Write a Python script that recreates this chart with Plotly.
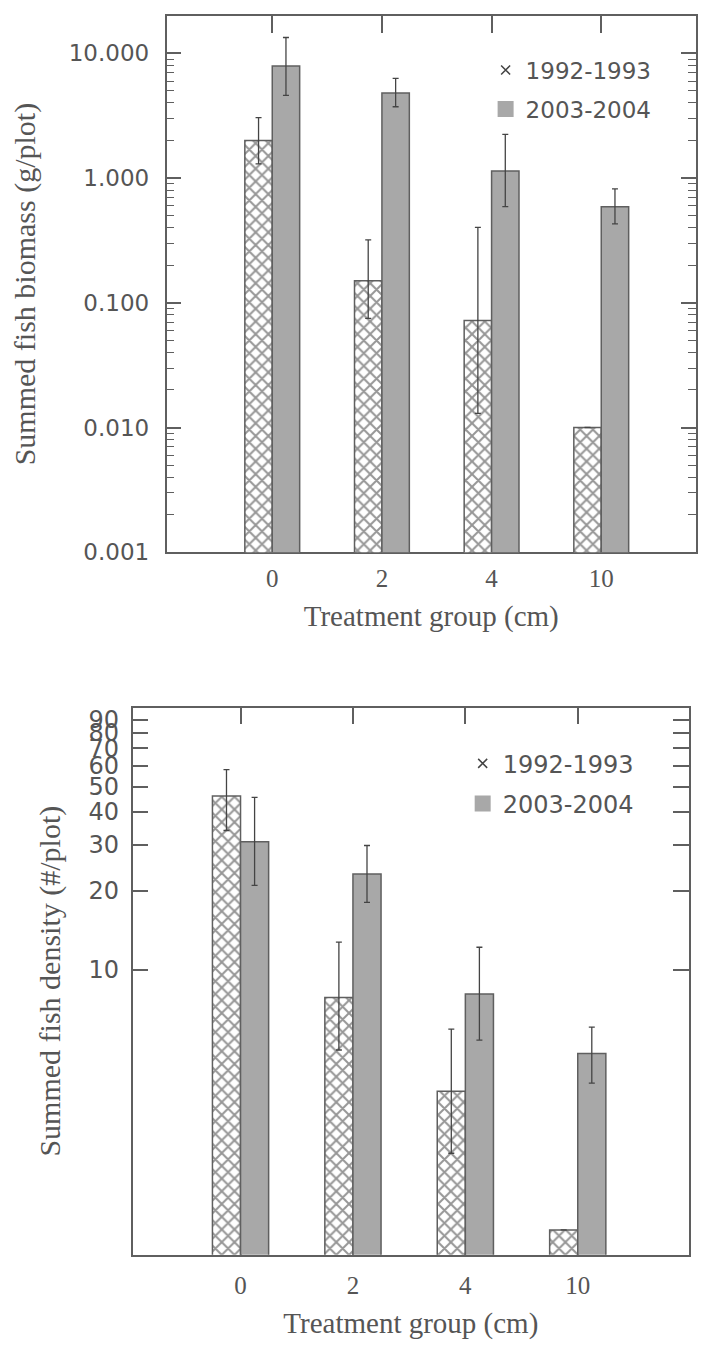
import plotly.graph_objects as go
import math

# ---------------- data ----------------
groups = ["0", "2", "4", "10"]
series_names = ["1992-1993", "2003-2004"]

biomass_9293 = [2.0, 0.15, 0.072, 0.010]
biomass_9293_up = [1.05, 0.17, 0.33, None]
biomass_9293_down = [0.70, 0.075, 0.059, None]

biomass_0304 = [7.9, 4.8, 1.14, 0.59]
biomass_0304_up = [5.5, 1.5, 1.1, 0.23]
biomass_0304_down = [3.3, 1.07, 0.55, 0.16]

density_9293 = [46.0, 7.85, 3.45, 1.02]
density_9293_up = [12.0, 4.9, 2.5, None]
density_9293_down = [12.0, 2.9, 1.45, None]

density_0304 = [30.8, 23.2, 8.1, 4.8]
density_0304_up = [14.7, 6.6, 4.1, 1.25]
density_0304_down = [9.8, 5.1, 2.7, 1.1]

density_tickvals = [10, 20, 30, 40, 50, 60, 70, 80, 90]
density_ticktext = ["10", "20", "30", "40", "50", "60", "70", "80", "90"]

# ---------------- style ----------------
# the page body keeps its default 8px margin, so the figure is 16px smaller
W, H = 690, 1336
OFF = 8
AX = "#5f5f5f"
TXT = "#555555"
GRAY = "#a8a8a8"
HATCH_FG = "#2e2e2e"
SANS = "DejaVu Sans"
SERIF = "Liberation Serif"


def px_x(X):
    return (X - OFF) / W


def px_y(Y):
    return 1 - (Y - OFF) / H


fig = go.Figure()


def add_pair(xa, ya, v1, u1, d1, v2, u2, d2):
    fig.add_trace(go.Bar(
        x=groups, y=v1, xaxis=xa, yaxis=ya, showlegend=False,
        marker=dict(color="white", line=dict(color=AX, width=1.5),
                    pattern=dict(shape="x", fgcolor=HATCH_FG, bgcolor="white",
                                 size=9, solidity=0.4)),
        error_y=dict(type="data", symmetric=False, array=u1, arrayminus=d1,
                     color="#444444", thickness=1.3, width=3),
        offsetgroup="a",
    ))
    fig.add_trace(go.Bar(
        x=groups, y=v2, xaxis=xa, yaxis=ya, showlegend=False,
        marker=dict(color=GRAY, line=dict(color=AX, width=1.5)),
        error_y=dict(type="data", symmetric=False, array=u2, arrayminus=d2,
                     color="#444444", thickness=1.3, width=3),
        offsetgroup="b",
    ))


add_pair("x", "y", biomass_9293, biomass_9293_up, biomass_9293_down,
         biomass_0304, biomass_0304_up, biomass_0304_down)
add_pair("x2", "y2", density_9293, density_9293_up, density_9293_down,
         density_0304, density_0304_up, density_0304_down)

# legend-only entries
for lg, xa, ya in [("legend", "x", "y"), ("legend2", "x2", "y2")]:
    fig.add_trace(go.Scatter(x=[None], y=[None], xaxis=xa, yaxis=ya, mode="markers",
                             name=series_names[0], legend=lg, legendgroup=lg + "a",
                             marker=dict(symbol="x-thin", size=9,
                                         line=dict(color="#444444", width=1.5))))
    fig.add_trace(go.Scatter(x=[None], y=[None], xaxis=xa, yaxis=ya, mode="markers",
                             name=series_names[1], legend=lg, legendgroup=lg + "b",
                             marker=dict(symbol="square", size=16, color=GRAY)))


def x_axis(domain, rng, anchor, label_pad, title_pad):
    return dict(type="category", domain=domain, range=rng, anchor=anchor,
                showline=True, linecolor=AX, linewidth=1.5,
                mirror="ticks", ticks="inside", ticklen=17, tickcolor=AX, tickwidth=1.5,
                showgrid=False, zeroline=False, layer="below traces",
                ticklabelstandoff=label_pad,
                tickfont=dict(family=SERIF, size=25, color=TXT),
                title=dict(text="Treatment group (cm)",
                           font=dict(family=SERIF, size=29, color=TXT), standoff=title_pad))


fig.update_layout(
    width=W, height=H,
    margin=dict(l=0, r=0, t=0, b=0),
    paper_bgcolor="white", plot_bgcolor="white",
    barmode="group", bargap=0.5, bargroupgap=0,
    xaxis=x_axis([px_x(167), 1.0], [-0.964, 3.864], "y", 3, 15),
    xaxis2=x_axis([px_x(133), px_x(691)], [-0.96, 3.99], "y2", 7, 15),
    yaxis=dict(domain=[px_y(557), px_y(15)], type="log", range=[-3, 1.30],
               anchor="x", dtick=1, tickformat=".3f",
               showline=True, linecolor=AX, linewidth=1.5,
               mirror="ticks", ticks="inside", ticklen=15, tickcolor=AX, tickwidth=1.5,
               minor=dict(dtick="D1", ticks="inside", ticklen=8, tickcolor=AX,
                          tickwidth=1.2, showgrid=False),
               showgrid=False, zeroline=False, ticklabelstandoff=11,
               tickfont=dict(family=SANS, size=23, color=TXT),
               title=dict(text="Summed fish biomass (g/plot)",
                          font=dict(family=SERIF, size=30, color=TXT), standoff=31)),
    yaxis2=dict(domain=[px_y(1267), px_y(714)], type="log",
                range=[math.log10(0.82), 2.0], anchor="x2", tickmode="array",
                tickvals=density_tickvals, ticktext=density_ticktext,
                showline=True, linecolor=AX, linewidth=1.5, mirror="ticks",
                ticks="inside", ticklen=16, tickcolor=AX, tickwidth=1.5,
                showgrid=False, zeroline=False, ticklabelstandoff=7,
                tickfont=dict(family=SANS, size=24, color=TXT),
                title=dict(text="Summed fish density (#/plot)",
                           font=dict(family=SERIF, size=30, color=TXT), standoff=19)),
    legend=dict(x=px_x(487), y=px_y(48), xanchor="left", yanchor="top",
                bgcolor="rgba(0,0,0,0)", font=dict(family=SANS, size=23, color=TXT),
                tracegroupgap=6, traceorder="grouped"),
    legend2=dict(x=px_x(464), y=px_y(748), xanchor="left", yanchor="top",
                 bgcolor="rgba(0,0,0,0)", font=dict(family=SANS, size=24, color=TXT),
                 tracegroupgap=6, traceorder="grouped"),
)

fig.write_html("out.html", config={"displayModeBar": False})
